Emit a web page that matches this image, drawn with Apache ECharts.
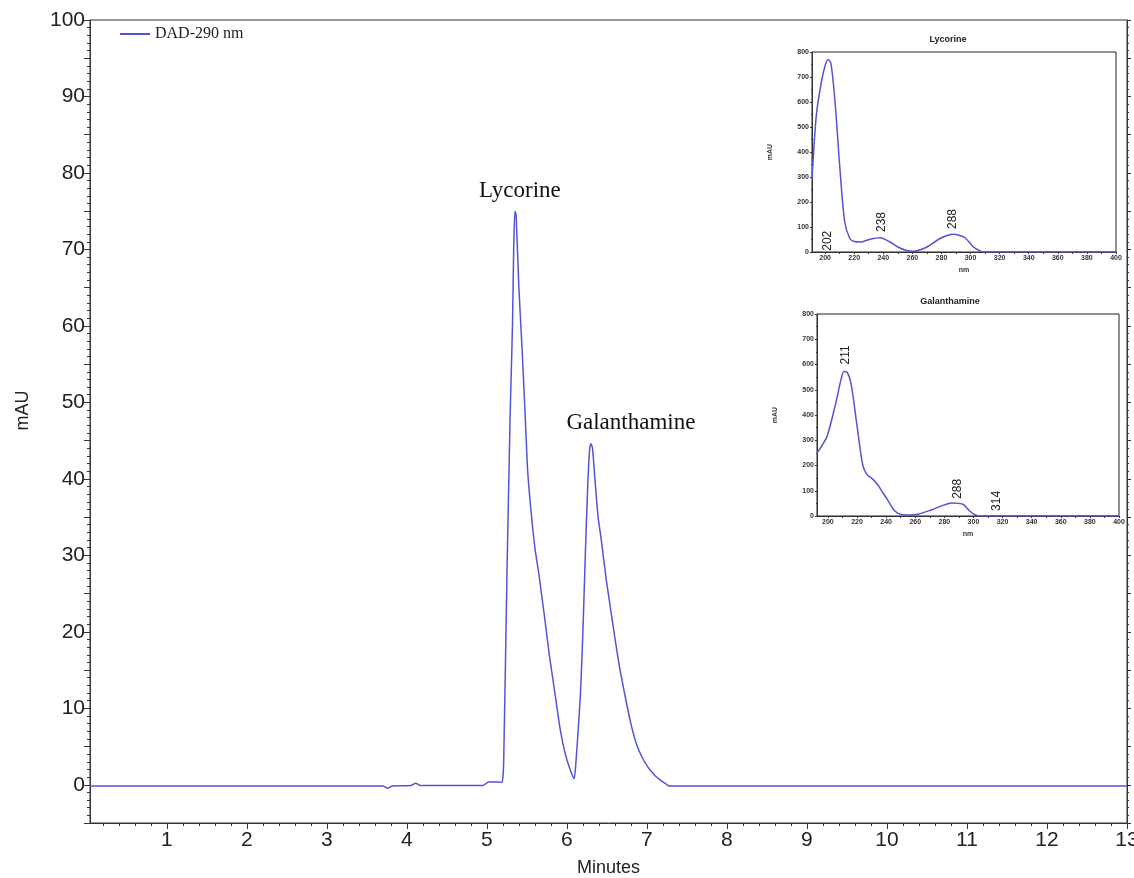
<!DOCTYPE html>
<html>
<head>
    <meta charset="utf-8" />
    <title>HPLC</title>
    <style>
        html, body { margin: 0; padding: 0; background: #fff; }
        #chart { width: 1134px; height: 878px; }
    </style>
</head>
<body>
    <div id="chart"></div>
    <script src="https://cdn.jsdelivr.net/npm/echarts@6/dist/echarts.min.js"></script>
    <script>
        // chromatogram, DAD 290 nm (minutes, mAU)
        var minutes = [0.04, 3.70, 3.76, 3.82, 4.05, 4.11, 4.17, 4.95, 5.02, 5.15, 5.19, 5.21, 5.25, 5.29, 5.32, 5.335, 5.35, 5.365,
            5.40, 5.44, 5.48, 5.51, 5.55, 5.60, 5.65, 5.72, 5.78, 5.85, 5.92, 5.98, 6.04, 6.09,
            6.11, 6.14, 6.17, 6.20, 6.23, 6.26, 6.285, 6.30, 6.32, 6.35, 6.39, 6.43, 6.49, 6.56, 6.64, 6.72, 6.80, 6.87, 6.94,
            7.02, 7.10, 7.18, 7.24, 7.27, 13];
        var mAU = [-0.15, -0.15, -0.45, -0.15, -0.1, 0.2, -0.1, -0.1, 0.35, 0.35, 0.3, 3, 27, 48, 60, 70, 75, 74.5,
            65, 57, 48, 41, 36, 31, 27.5, 22, 17, 12, 7, 4, 2, 0.8,
            2.5, 7, 12, 20, 30, 39, 44, 44.6, 44, 40, 35, 32, 27, 22, 16.5, 12, 8, 5.3, 3.6,
            2.2, 1.2, 0.5, 0.1, -0.15, -0.15];
        var peakNames = ['Lycorine', 'Galanthamine'];
        var peakTimes = [5.35, 6.30];
        var peakHeights = [75, 44.6];
        var minuteTicks = [1, 2, 3, 4, 5, 6, 7, 8, 9, 10, 11, 12, 13];

        // UV spectrum of lycorine (nm, mAU)
        var lycNm = [191, 194, 197.5, 200, 202, 204, 207, 210, 213.5, 217, 220, 224, 231, 238, 244, 250, 256, 261, 266, 270,
            279, 285, 288, 292, 296, 302, 306, 309, 400];
        var lycAbs = [290, 548, 682, 745, 770, 755, 589, 348, 120, 54, 42, 40, 51, 57, 42, 20, 6, 3, 10, 20,
            54, 68, 71, 67, 58, 20, 6, 0, 0];
        var lycMarks = [[202, 5, '202'], [239, 80, '238'], [288, 92, '288']];

        // UV spectrum of galanthamine (nm, mAU)
        var galNm = [192, 196, 199.5, 205, 209, 211, 213, 216, 220, 224, 227, 230, 234, 238, 241, 246, 251, 256, 262, 271,
            280, 285, 290, 293, 297, 301, 305, 400];
        var galAbs = [245, 280, 317, 437, 540, 572, 570, 520, 357, 200, 163, 150, 126, 90, 64, 20, 5, 4, 7, 24,
            44, 51, 50, 46, 22, 5, 0, 0];
        var galMarks = [[212, 600, '211'], [289, 68, '288'], [316, 20, '314']];

        var nmTicks = [200, 220, 240, 260, 280, 300, 320, 340, 360, 380, 400];
        var nmMinor = [200, 210, 220, 230, 240, 250, 260, 270, 280, 290, 300, 310, 320, 330, 340, 350, 360, 370, 380, 390, 400];

        // short ticks every 0.2 min between the whole minutes
        var minuteMinor = [];
        for (var i = 1; i < 65; i++) {
            if (i % 5 !== 0) minuteMinor.push(+(i * 0.2).toFixed(1));
        }

        var lineColor = '#5353d8';
        var axisColor = '#333';

        function pairs(xs, ys) {
            return xs.map(function (x, i) { return [x, ys[i]]; });
        }

        function spectrumMarks(list) {
            return list.map(function (m) {
                return { coord: [m[0], m[1]], value: m[2] };
            });
        }

        function insetX(index, name) {
            return {
                type: 'value', gridIndex: index, min: index === 1 ? 191 : 192.5, max: 400,
                name: name, nameLocation: 'middle', nameGap: 15,
                nameTextStyle: { fontSize: 7, fontWeight: 'bold', color: '#333', fontFamily: 'Liberation Sans' },
                axisLine: { onZero: false, lineStyle: { color: axisColor } },
                axisTick: { customValues: nmMinor, length: 2, lineStyle: { color: axisColor } },
                axisLabel: { customValues: nmTicks, fontSize: 7, fontWeight: 'bold', color: '#333', margin: 3, fontFamily: 'Liberation Sans' },
                splitLine: { show: false }
            };
        }

        function insetY(index, gap) {
            return {
                type: 'value', gridIndex: index, min: 0, max: 800, interval: 100,
                name: 'mAU', nameLocation: 'middle', nameGap: gap, nameRotate: 90,
                nameTextStyle: { fontSize: 7, fontWeight: 'bold', color: '#333', fontFamily: 'Liberation Sans' },
                axisLine: { show: true, onZero: false, lineStyle: { color: axisColor } },
                axisTick: { length: 2, lineStyle: { color: axisColor } },
                minorTick: { show: true, splitNumber: 2, length: 1, lineStyle: { color: axisColor } },
                axisLabel: { fontSize: 7, fontWeight: 'bold', color: '#333', margin: 3, fontFamily: 'Liberation Sans' },
                splitLine: { show: false }
            };
        }

        var spectrumLabel = {
            show: true, formatter: '{c}', rotate: 90, align: 'left', verticalAlign: 'middle',
            position: 'inside', fontSize: 12, color: '#222', fontFamily: 'Liberation Sans'
        };

        var option = {
            backgroundColor: '#fff',
            animation: false,
            title: [
                { text: 'Lycorine', left: 943, top: 30, textAlign: 'center',
                  textStyle: { fontSize: 9, fontWeight: 'bold', color: '#222', fontFamily: 'Liberation Sans' } },
                { text: 'Galanthamine', left: 945, top: 292, textAlign: 'center',
                  textStyle: { fontSize: 9, fontWeight: 'bold', color: '#222', fontFamily: 'Liberation Sans' } }
            ],
            legend: {
                data: ['DAD-290 nm'], left: 115, top: 21, icon: 'rect', itemWidth: 30, itemHeight: 2, itemGap: 4,
                textStyle: { fontSize: 16, color: '#222', fontFamily: 'Liberation Serif' }
            },
            grid: [
                { left: 90, right: 7, top: 20, bottom: 55, show: true, borderColor: axisColor, borderWidth: 1, outerBoundsMode: 'none' },
                { left: 812, right: 18, top: 52, height: 200, show: true, borderColor: '#222', borderWidth: 1, backgroundColor: '#fff', outerBoundsMode: 'none' },
                { left: 817, right: 15, top: 314, height: 202, show: true, borderColor: '#222', borderWidth: 1, backgroundColor: '#fff', outerBoundsMode: 'none' }
            ],
            xAxis: [
                {
                    type: 'value', gridIndex: 0, min: 0.04, max: 13,
                    name: 'Minutes', nameLocation: 'middle', nameGap: 36,
                    nameTextStyle: { fontSize: 18, color: '#222', fontFamily: 'Liberation Sans' },
                    axisLine: { onZero: false, lineStyle: { color: axisColor } },
                    axisTick: { customValues: minuteTicks, length: 6, lineStyle: { color: axisColor } },
                    axisLabel: { customValues: minuteTicks, fontSize: 21, color: '#222', margin: 7, fontFamily: 'Liberation Sans' },
                    splitLine: { show: false }
                },
                insetX(1, 'nm'),
                insetX(2, 'nm'),
                {
                    type: 'value', gridIndex: 0, position: 'bottom', min: 0.04, max: 13,
                    axisLine: { show: false, onZero: false },
                    axisTick: { customValues: minuteMinor, length: 3, lineStyle: { color: axisColor } },
                    axisLabel: { show: false },
                    splitLine: { show: false }
                }
            ],
            yAxis: [
                {
                    type: 'value', gridIndex: 0, min: -5, max: 100, interval: 5,
                    name: 'mAU', nameLocation: 'middle', nameGap: 58, nameRotate: 90,
                    nameTextStyle: { fontSize: 18, color: '#222', fontFamily: 'Liberation Sans', padding: [0, 0, 0, 22] },
                    axisLine: { show: true, onZero: false, lineStyle: { color: axisColor } },
                    axisTick: { length: 6, lineStyle: { color: axisColor } },
                    minorTick: { show: true, splitNumber: 5, length: 3, lineStyle: { color: axisColor } },
                    axisLabel: {
                        fontSize: 21, color: '#222', margin: 5, fontFamily: 'Liberation Sans',
                        formatter: function (v) { return v % 10 === 0 ? v : ''; }
                    },
                    splitLine: { show: false }
                },
                {
                    type: 'value', gridIndex: 0, position: 'right', min: -5, max: 100, interval: 5,
                    axisLine: { show: true, onZero: false, lineStyle: { color: axisColor } },
                    axisTick: { length: 4, lineStyle: { color: axisColor } },
                    minorTick: { show: true, splitNumber: 5, length: 2, lineStyle: { color: axisColor } },
                    axisLabel: { show: false },
                    splitLine: { show: false }
                },
                insetY(1, 38),
                insetY(2, 38)
            ],
            series: [
                {
                    name: 'DAD-290 nm', type: 'line', xAxisIndex: 0, yAxisIndex: 0,
                    data: pairs(minutes, mAU), showSymbol: false, smooth: 0.2,
                    lineStyle: { color: lineColor, width: 1.5 }, itemStyle: { color: lineColor },
                    markPoint: {
                        symbol: 'circle', symbolSize: 0,
                        label: { show: true, formatter: '{b}', position: 'top', fontSize: 23, color: '#111', fontFamily: 'Liberation Serif' },
                        data: [
                            { name: peakNames[0], coord: [peakTimes[0], peakHeights[0]], label: { offset: [5, -4] } },
                            { name: peakNames[1], coord: [peakTimes[1], peakHeights[1]], label: { offset: [40, -4] } }
                        ]
                    }
                },
                {
                    name: 'Lycorine UV', type: 'line', xAxisIndex: 1, yAxisIndex: 2,
                    data: pairs(lycNm, lycAbs), showSymbol: false, smooth: 0.3,
                    lineStyle: { color: lineColor, width: 1.5 }, itemStyle: { color: lineColor },
                    markPoint: { symbol: 'circle', symbolSize: 0, label: spectrumLabel, data: spectrumMarks(lycMarks) }
                },
                {
                    name: 'Galanthamine UV', type: 'line', xAxisIndex: 2, yAxisIndex: 3,
                    data: pairs(galNm, galAbs), showSymbol: false, smooth: 0.3,
                    lineStyle: { color: lineColor, width: 1.5 }, itemStyle: { color: lineColor },
                    markPoint: { symbol: 'circle', symbolSize: 0, label: spectrumLabel, data: spectrumMarks(galMarks) }
                }
            ]
        };

        var chart = echarts.init(document.getElementById('chart'));
        chart.setOption(option);
    </script>
</body>
</html>
